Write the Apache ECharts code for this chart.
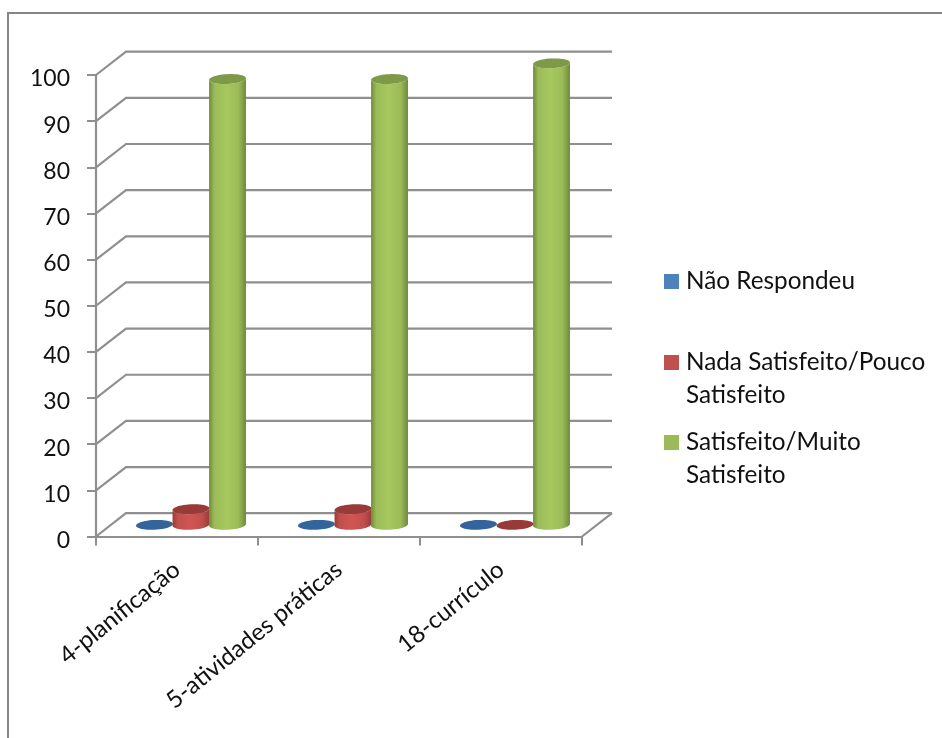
<!DOCTYPE html>
<html><head><meta charset="utf-8">
<style>html,body{margin:0;padding:0;background:#fff}#c{width:942px;height:738px}</style>
<script src="https://cdn.jsdelivr.net/npm/echarts@6/dist/echarts.min.js"></script>
</head><body><div id="c"></div>
<script>
const categories = ['4-planificação', '5-atividades práticas', '18-currículo'];
const seriesNames = ['Não Respondeu', 'Nada Satisfeito/Pouco Satisfeito', 'Satisfeito/Muito Satisfeito'];
const naoRespondeu = [0, 0, 0];
const nadaSatisfeito = [3.4, 3.4, 0];
const satisfeito = [96.6, 96.6, 100];
const yTicks = [0, 10, 20, 30, 40, 50, 60, 70, 80, 90, 100];

const FONT = 'Lato, Carlito, sans-serif';
const GRID_COLOR = '#8f8f8f';
const DEPTH_X = 30, DEPTH_Y = 23.3;
const palette = [
  {icon:'#4f81bd', edge:'#2f5f95', mid:'#3f74b0', top:'#33649c'},
  {icon:'#c0504d', edge:'#9a3b39', mid:'#d05552', top:'#973a38'},
  {icon:'#9bbb59', edge:'#6e8a3a', mid:'#a6c85e', top:'#7e9a49'}
];

function wallItem(params, api) {
  const v = api.value(0);
  const a = api.coord([0, v]);
  const band = api.size([1, 0])[0];
  const x0 = a[0] - band / 2, y = a[1];
  const x1 = x0 + band * categories.length;
  const style = {stroke: GRID_COLOR, lineWidth: 2.2, fill: null};
  const children = [
    {type:'polyline', shape:{points:[[x0,y],[x0+DEPTH_X,y-DEPTH_Y],[x1+DEPTH_X,y-DEPTH_Y]]}, style}
  ];
  if (v === 0) children.push({type:'line', shape:{x1:x1,y1:y,x2:x1+DEPTH_X,y2:y-DEPTH_Y}, style});
  return {type:'group', children};
}

function cylinderItem(seriesIdx) {
  return function (params, api) {
    const p0 = api.coord([api.value(0), 0]);
    const p1 = api.coord([api.value(0), api.value(1)]);
    const band = api.size([1, 0])[0];
    const step = band * 0.2255, rx = step / 2 + 0.2, ry = 4.9, tilt = 0.05;
    const cx = p0[0] + DEPTH_X / 2 - 1 + (seriesIdx - 1) * step;
    const yb = p0[1] - DEPTH_Y / 2, yt = p1[1] - DEPTH_Y / 2;
    const pal = palette[seriesIdx];
    const pt = (y, t) => {
      const ex = rx * Math.cos(t), ey = ry * Math.sin(t);
      return [cx + ex * Math.cos(tilt) + ey * Math.sin(tilt), y - ex * Math.sin(tilt) + ey * Math.cos(tilt)];
    };
    const children = [];
    if (yb - yt > 0.5) {
      const pts = [];
      for (let i = 0; i <= 24; i++) pts.push(pt(yb, Math.PI - Math.PI * i / 24));
      for (let i = 0; i <= 24; i++) pts.push(pt(yt, Math.PI * i / 24 ));
      children.push({type:'polygon', shape:{points:pts}, style:{fill:{
        type:'linear', x:0, y:0, x2:1, y2:0,
        colorStops:[{offset:0,color:pal.edge},{offset:0.14,color:pal.icon},{offset:0.48,color:pal.mid},{offset:0.8,color:pal.icon},{offset:1,color:pal.edge}]
      }}});
    }
    const top = [];
    for (let i = 0; i < 48; i++) top.push(pt(yt, 2 * Math.PI * i / 48));
    children.push({type:'polygon', shape:{points:top}, style:{fill:pal.top}});
    return {type:'group', children};
  };
}

const valueLists = [naoRespondeu, nadaSatisfeito, satisfeito];
const barSeries = seriesNames.map((name, s) => ({
  name, type:'custom', z:3, coordinateSystem:'cartesian2d',
  itemStyle:{color:palette[s].icon},
  encode:{x:0,y:1},
  data: categories.map((c, i) => [i, valueLists[s][i]]),
  renderItem: cylinderItem(s),
  silent:true
}));

const TWO_LINE_ICON = 'path://M0 0H15V15H0ZM0 46.9H0.02V47H0Z';
const legendBase = {
  orient:'vertical', left:664, selectedMode:false, itemGap:0, padding:0,
  itemWidth:15, textStyle:{fontFamily:FONT, fontSize:24.3, color:'#111', lineHeight:33, padding:[0,0,0,2]}
};
const wrap = n => { const k = n.lastIndexOf(' '); return n.slice(0, k) + '\n' + n.slice(k + 1); };

const chart = echarts.init(document.getElementById('c'), null, {renderer:'canvas'});
chart.setOption({
  backgroundColor:'#fff',
  animation:false,
  grid:{left:96, top:75, width:486, height:461.5, containLabel:false},
  xAxis:{type:'category', data:categories, boundaryGap:true,
    axisLine:{lineStyle:{color:GRID_COLOR,width:2.2}},
    axisTick:{show:true,alignWithLabel:false,length:9,lineStyle:{color:GRID_COLOR,width:2}},
    axisLabel:{interval:0,rotate:39,margin:30,fontFamily:FONT,fontSize:24,color:'#111'},
    splitLine:{show:false}},
  yAxis:{type:'value', min:0, max:100, interval:10,
    axisLine:{show:true,lineStyle:{color:GRID_COLOR,width:2.2}},
    axisTick:{show:true,length:9,lineStyle:{color:GRID_COLOR,width:2}},
    axisLabel:{margin:26,color:'#111',formatter:'{n|{value}}',
      rich:{n:{fontFamily:FONT,fontSize:23,color:'#111',padding:[8,0,0,0]}},
      verticalAlignMinLabel:'middle',verticalAlignMaxLabel:'middle',hideOverlap:false},
    splitLine:{show:false}},
  legend:[
    Object.assign({}, legendBase, {top:265, data:[seriesNames[0]], itemHeight:15, icon:'rect'}),
    Object.assign({}, legendBase, {top:345.5, data:[seriesNames[1]], itemHeight:47, icon:TWO_LINE_ICON, formatter:wrap}),
    Object.assign({}, legendBase, {top:425.5, data:[seriesNames[2]], itemHeight:47, icon:TWO_LINE_ICON, formatter:wrap})
  ],
  graphic:[
    {type:'polyline', silent:true, z:1, shape:{points:[[8,738],[8,13],[942,13]]}, style:{stroke:'#868686',lineWidth:2,fill:null}}
  ],
  series:[{
    type:'custom', z:1, silent:true, coordinateSystem:'cartesian2d',
    encode:{y:0}, data:yTicks.map(v => [v]), renderItem:wallItem, tooltip:{show:false}
  }].concat(barSeries)
});
</script></body></html>
